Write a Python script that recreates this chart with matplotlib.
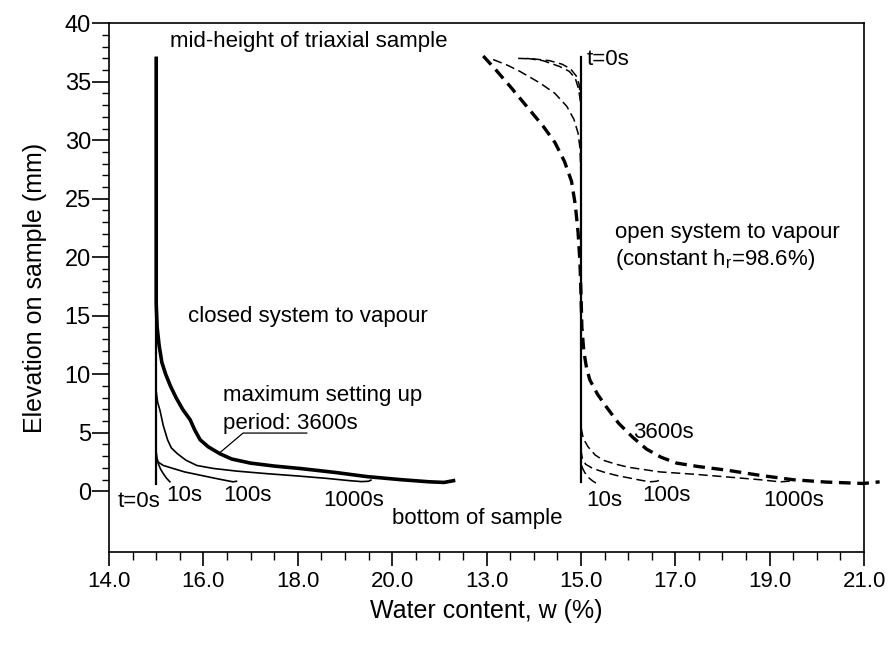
import numpy as np
import matplotlib
matplotlib.use("Agg")
import matplotlib.pyplot as plt
from matplotlib.ticker import MultipleLocator, FixedLocator

plt.rcParams["font.family"] = ["Liberation Sans", "DejaVu Sans"]
plt.rcParams["mathtext.fontset"] = "custom"
plt.rcParams["mathtext.rm"] = "Liberation Sans"

# closed system (left panel), water content w (%) vs elevation (mm)
closed_t0_w = [15.0, 15.0]
closed_t0_z = [0.6, 37.0]
closed_10s_w = [15.0, 15.01, 15.04, 15.09, 15.15, 15.22, 15.29]
closed_10s_z = [3.2, 2.8, 2.4, 1.9, 1.5, 1.1, 0.8]
closed_100s_w = [15.0, 15.01, 15.04, 15.15, 15.36, 15.6, 15.93, 16.25, 16.5, 16.63, 16.7]
closed_100s_z = [3.4, 2.9, 2.5, 2.2, 1.94, 1.65, 1.37, 1.1, 0.9, 0.8, 0.85]
closed_1000s_w = [15.0, 15.03, 15.08, 15.15, 15.24, 15.32, 15.45, 15.63, 15.86, 16.2, 16.7,
                  17.34, 18.0, 18.6, 19.1, 19.35, 19.5, 19.55]
closed_1000s_z = [8.5, 7.6, 6.9, 5.6, 4.4, 3.7, 3.2, 2.65, 2.2, 1.95, 1.72,
                  1.5, 1.3, 1.1, 0.9, 0.82, 0.85, 0.95]
closed_3600s_w = [15.0, 15.0, 15.02, 15.06, 15.12, 15.2, 15.3, 15.42, 15.56, 15.72, 15.82, 15.93,
                  16.1, 16.35, 16.6, 17.0, 17.5, 18.05, 18.8, 19.46, 20.2, 20.8, 21.1, 21.3]
closed_3600s_z = [37.0, 16.0, 14.0, 12.5, 11.0, 10.0, 9.0, 8.0, 7.0, 6.1, 5.2, 4.4,
                  3.8, 3.2, 2.75, 2.4, 2.15, 1.94, 1.6, 1.25, 0.98, 0.8, 0.75, 0.9]

# open system (right panel)
open_t0_w = [15.0, 15.0]
open_t0_z = [0.8, 37.1]
open_10s_w = [13.67, 14.0, 14.34, 14.6, 14.78, 14.9, 14.96, 15.0,
              15.0, 15.03, 15.08, 15.15, 15.24, 15.33]
open_10s_z = [37.0, 36.95, 36.8, 36.5, 36.1, 35.5, 34.8, 33.5,
              2.6, 2.0, 1.6, 1.2, 0.9, 0.66]
open_100s_w = [13.85, 14.2, 14.55, 14.75, 14.88, 14.95, 15.0,
               15.0, 15.03, 15.1, 15.25, 15.47, 15.75, 16.0, 16.25, 16.46, 16.6, 16.67]
open_100s_z = [37.0, 36.8, 36.3, 35.9, 35.3, 34.4, 33.0,
               3.5, 2.8, 2.3, 1.95, 1.65, 1.35, 1.15, 0.95, 0.8, 0.85, 0.94]
open_1000s_w = [13.14, 13.45, 13.7, 14.13, 14.45, 14.7, 14.85, 14.94, 14.98, 15.0,
                15.0, 15.05, 15.15, 15.3, 15.47, 15.75, 16.0, 16.67, 17.4, 18.09,
                18.8, 19.22, 19.4, 19.5]
open_1000s_z = [36.9, 36.4, 35.9, 34.9, 34.0, 32.9, 31.8, 30.6, 29.3, 27.0,
                5.5, 4.5, 3.8, 3.1, 2.65, 2.3, 2.05, 1.65, 1.45, 1.22,
                0.98, 0.8, 0.85, 1.0]
open_3600s_w = [12.93, 13.2, 13.5, 13.85, 14.2, 14.45, 14.65, 14.8, 14.88, 14.94, 14.98, 15.0,
                15.02, 15.06, 15.12, 15.19, 15.35, 15.54, 15.8, 16.1, 16.39, 16.7, 17.03, 17.5,
                18.09, 18.8, 19.5, 20.2, 20.98, 21.33]
open_3600s_z = [37.2, 36.0, 34.6, 32.9, 31.2, 29.8, 28.2, 26.5, 24.5, 22.1, 19.5, 17.0,
                14.0, 12.0, 10.5, 9.5, 8.3, 7.2, 5.8, 4.6, 3.6, 2.9, 2.4, 2.1,
                1.8, 1.35, 0.98, 0.78, 0.66, 0.8]

left_ticks = [14.0, 16.0, 18.0, 20.0]
right_ticks = [13.0, 15.0, 17.0, 19.0, 21.0]

# right panel is drawn on the same axis, shifted so 13.0 sits at 22.0
shift = 9.0

fig = plt.figure(figsize=(8.93, 6.48), dpi=100)
ax = fig.add_axes([0.1221, 0.1481, 0.8455, 0.8160])

ax.plot(closed_t0_w, closed_t0_z, color="black", lw=1.6)
ax.plot(closed_10s_w, closed_10s_z, color="black", lw=1.2)
ax.plot(closed_100s_w, closed_100s_z, color="black", lw=1.2)
ax.plot(closed_1000s_w, closed_1000s_z, color="black", lw=1.2)
ax.plot(closed_3600s_w, closed_3600s_z, color="black", lw=2.6)

ax.plot(np.array(open_t0_w) + shift, open_t0_z, color="black", lw=1.6)
ax.plot(np.array(open_10s_w) + shift, open_10s_z, color="black", lw=1.1, dashes=(6, 3))
ax.plot(np.array(open_100s_w) + shift, open_100s_z, color="black", lw=1.1, dashes=(6, 3))
ax.plot(np.array(open_1000s_w) + shift, open_1000s_z, color="black", lw=1.1, dashes=(6, 3))
ax.plot(np.array(open_3600s_w) + shift, open_3600s_z, color="black", lw=2.4, dashes=(3.5, 2),
        clip_on=False)

# leader for the 3600s label
ax.plot([16.35, 16.84, 18.19], [3.3, 4.97, 4.97], color="black", lw=0.9)

fs = 16
ax.text(15.29, 38.4, "mid-height of triaxial sample", fontsize=fs, va="center")
ax.text(15.67, 14.9, "closed system to vapour", fontsize=fs, va="center")
ax.text(16.41, 8.2, "maximum setting up", fontsize=fs, va="center")
ax.text(16.41, 5.8, "period: 3600s", fontsize=fs, va="center")
ax.text(14.19, -0.9, "t=0s", fontsize=fs, va="center")
ax.text(15.22, -0.35, "10s", fontsize=fs, va="center")
ax.text(16.42, -0.35, "100s", fontsize=fs, va="center")
ax.text(18.53, -0.8, "1000s", fontsize=fs, va="center")
ax.text(20.0, -2.3, "bottom of sample", fontsize=fs, va="center")

ax.text(15.12 + shift, 36.9, "t=0s", fontsize=fs, va="center")
ax.text(24.72, 22.1, "open system to vapour", fontsize=fs, va="center")
ax.text(24.72, 19.8, r"(constant h$_\mathrm{r}$=98.6%)", fontsize=fs, va="center")
ax.text(25.1, 5.0, "3600s", fontsize=fs, va="center")
ax.text(24.12, -0.8, "10s", fontsize=fs, va="center")
ax.text(25.31, -0.35, "100s", fontsize=fs, va="center")
ax.text(27.86, -0.8, "1000s", fontsize=fs, va="center")

ax.set_xlim(14.0, 30.0)
ax.set_ylim(-5.2, 40.0)

xt = left_ticks + [t + shift for t in right_ticks]
ax.xaxis.set_major_locator(FixedLocator(xt))
ax.set_xticklabels([f"{t:.1f}" for t in left_ticks + right_ticks])
ax.xaxis.set_minor_locator(MultipleLocator(0.5))
ax.yaxis.set_major_locator(FixedLocator(range(0, 41, 5)))
ax.yaxis.set_minor_locator(FixedLocator(range(0, 41)))

ax.tick_params(axis="x", which="major", direction="out", length=10, width=1.2,
               labelsize=16, pad=4)
ax.tick_params(axis="x", which="minor", direction="out", length=5.5, width=1.0)
ax.tick_params(axis="y", which="major", direction="out", length=12, width=1.2,
               labelsize=17, pad=1)
ax.tick_params(axis="y", which="minor", direction="out", length=5, width=1.0)
for s in ax.spines.values():
    s.set_linewidth(1.2)

ax.set_xlabel("Water content, w (%)", fontsize=18, labelpad=5)
ax.set_ylabel("Elevation on sample (mm)", fontsize=18, labelpad=13)

plt.savefig("out.png", dpi=100)
plt.close()
